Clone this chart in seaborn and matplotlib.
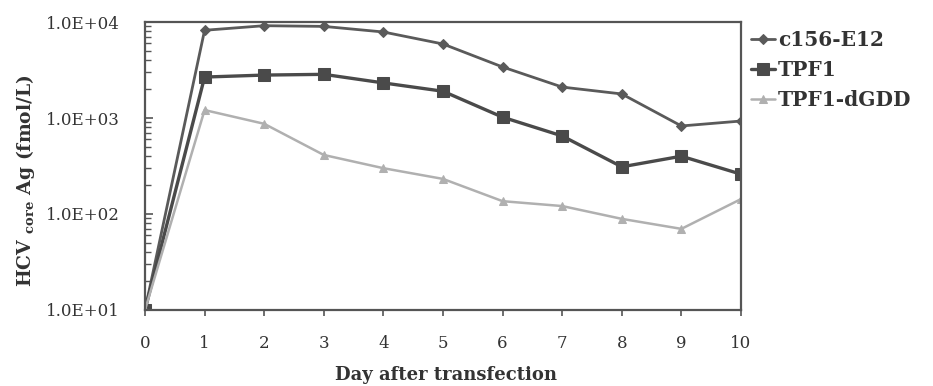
import matplotlib
matplotlib.use("Agg")
import matplotlib.pyplot as plt
import seaborn as sns
import pandas as pd
import numpy as np
from matplotlib.ticker import LogLocator, NullFormatter, FixedLocator

days = [0, 1, 2, 3, 4, 5, 6, 7, 8, 9, 10]
c156_e12 = [10, 8200, 9150, 9000, 7870, 5900, 3400, 2100, 1780, 826, 930]
tpf1 = [10, 2670, 2800, 2850, 2320, 1900, 1020, 650, 310, 400, 260]
tpf1_dgdd = [10, 1210, 870, 412, 300, 232, 136, 121, 89, 70, 143]
series_names = ["c156-E12", "TPF1", "TPF1-dGDD"]
ytick_vals = [10, 100, 1000, 10000]
ytick_labels = ["1.0E+01", "1.0E+02", "1.0E+03", "1.0E+04"]

sns.set_theme(style="white")
plt.rcParams['font.family'] = ['DejaVu Serif']
plt.rcParams['mathtext.fontset'] = 'custom'
plt.rcParams['mathtext.rm'] = 'DejaVu Serif'
plt.rcParams['mathtext.bf'] = 'DejaVu Serif:bold'

df = pd.DataFrame({
    "day": days * 3,
    "value": c156_e12 + tpf1 + tpf1_dgdd,
    "series": sum([[n] * len(days) for n in series_names], []),
})

fig = plt.figure(figsize=(9.33, 3.86), dpi=100)
ax = fig.add_axes([0.1554, 0.1969, 0.7942 - 0.1554, 0.943 - 0.1969])

styles = {
    "c156-E12": dict(color="#5a5a5a", marker="D", ms=5, lw=2.0),
    "TPF1": dict(color="#4a4a4a", marker="s", ms=8, lw=2.4),
    "TPF1-dGDD": dict(color="#b0b0b0", marker="^", ms=6, lw=1.8),
}
for name in series_names:
    st = styles[name]
    sub = df[df["series"] == name]
    sns.lineplot(data=sub, x="day", y="value", ax=ax, color=st["color"],
                 marker=st["marker"], markersize=st["ms"], linewidth=st["lw"],
                 markeredgecolor=st["color"], label=name)

ax.set_yscale("log")
ax.set_ylim(10, 10000)
ax.set_xlim(0, 10)
ax.yaxis.set_major_locator(FixedLocator(ytick_vals))
ax.set_yticklabels(ytick_labels)
ax.yaxis.set_minor_locator(LogLocator(base=10, subs=np.arange(2, 10)))
ax.yaxis.set_minor_formatter(NullFormatter())
ax.set_xticks(days)
ax.set_xticklabels([str(d) for d in days])

for sp in ax.spines.values():
    sp.set_color("#555555")
    sp.set_linewidth(1.6)

ax.tick_params(axis="y", which="major", direction="in", length=6, width=1.2,
               colors="#555555", labelcolor="#333333", labelsize=12, pad=18, left=True)
ax.tick_params(axis="y", which="minor", direction="in", length=4, width=1.0,
               colors="#555555", left=True)
ax.tick_params(axis="x", which="major", direction="out", length=4, width=1.2,
               colors="#555555", labelcolor="#333333", labelsize=12, pad=14, bottom=True)

ax.set_xlabel("Day after transfection", fontsize=13, fontweight="bold",
              color="#333333")
ax.xaxis.label.set_va("center")
ax.xaxis.set_label_coords(0.505, -0.225)
ax.set_ylabel(r"HCV $\mathregular{_{core}}$ Ag (fmol/L)", fontsize=13.5,
              fontweight="bold", color="#333333")
ax.yaxis.label.set_va("center")
ax.yaxis.set_label_coords(-0.2, 0.45)

leg = ax.legend(loc="upper left", bbox_to_anchor=(1.003, 1.0), frameon=False,
                fontsize=14.5, handlelength=1.2, handletextpad=0.15, labelspacing=0.5,
                borderaxespad=0)
for t in leg.get_texts():
    t.set_color("#333333")
    t.set_fontweight("bold")

fig.savefig("out.png", dpi=100, facecolor="white")
